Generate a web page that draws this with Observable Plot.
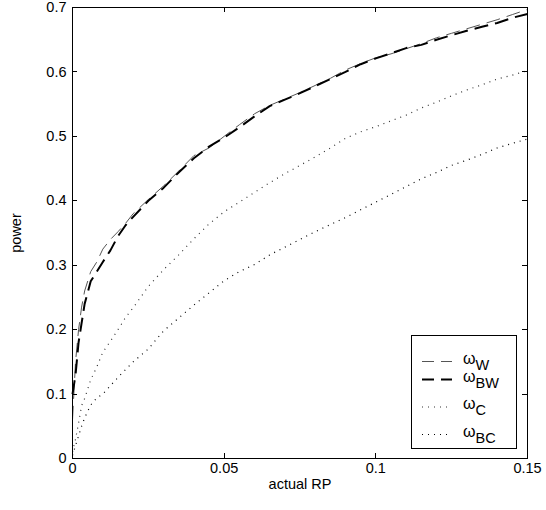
<!DOCTYPE html>
<html><head><meta charset="utf-8">
<script src="https://cdn.jsdelivr.net/npm/d3@7"></script>
<script src="https://cdn.jsdelivr.net/npm/@observablehq/plot@0.6"></script>
<style>
body{margin:0;background:#fff}
#chart svg{font-family:"Liberation Sans",Arial,Helvetica,sans-serif}
</style>
</head><body><div id="chart"></div>
<script>
// actual RP (x values)
const rp = [0, 0.001, 0.002, 0.003, 0.004, 0.006, 0.008, 0.01, 0.0125, 0.015, 0.0175, 0.02, 0.025, 0.03, 0.035, 0.04, 0.045, 0.05, 0.055, 0.06, 0.065, 0.07, 0.075, 0.08, 0.085, 0.09, 0.095, 0.1, 0.105, 0.11, 0.115, 0.12, 0.125, 0.13, 0.135, 0.14, 0.145, 0.15];
// power series
const powerW  = [0.06, 0.15, 0.20, 0.235, 0.26, 0.29, 0.305, 0.325, 0.34, 0.352, 0.365, 0.38, 0.402, 0.423, 0.446, 0.47, 0.482, 0.50, 0.518, 0.535, 0.548, 0.558, 0.568, 0.579, 0.590, 0.603, 0.613, 0.622, 0.628, 0.636, 0.644, 0.653, 0.660, 0.667, 0.674, 0.681, 0.689, 0.697];
const powerBW = [0.10, 0.13, 0.18, 0.21, 0.24, 0.275, 0.29, 0.305, 0.323, 0.345, 0.362, 0.375, 0.40, 0.42, 0.444, 0.466, 0.484, 0.498, 0.514, 0.531, 0.547, 0.557, 0.567, 0.578, 0.589, 0.600, 0.612, 0.621, 0.629, 0.637, 0.642, 0.650, 0.657, 0.664, 0.670, 0.676, 0.684, 0.690];
const powerC  = [0.01, 0.03, 0.055, 0.082, 0.093, 0.122, 0.142, 0.165, 0.182, 0.20, 0.219, 0.234, 0.267, 0.293, 0.316, 0.341, 0.364, 0.383, 0.398, 0.413, 0.428, 0.442, 0.455, 0.468, 0.482, 0.497, 0.507, 0.515, 0.524, 0.533, 0.544, 0.553, 0.563, 0.572, 0.580, 0.589, 0.595, 0.602];
const powerBC = [0.005, 0.02, 0.035, 0.05, 0.063, 0.083, 0.094, 0.10, 0.113, 0.126, 0.138, 0.150, 0.170, 0.198, 0.218, 0.238, 0.257, 0.276, 0.29, 0.301, 0.316, 0.328, 0.340, 0.352, 0.363, 0.374, 0.386, 0.398, 0.410, 0.422, 0.434, 0.444, 0.455, 0.463, 0.472, 0.482, 0.489, 0.496];
const seriesSubs = ["W", "BW", "C", "BC"];
const xTicks = [0, 0.05, 0.1, 0.15];
const yTicks = [0, 0.1, 0.2, 0.3, 0.4, 0.5, 0.6, 0.7];

const seriesValues = [powerW, powerBW, powerC, powerBC];
const lineStyles = [
  {stroke: "#555", strokeWidth: 1, strokeDasharray: "14,7"},
  {stroke: "#000", strokeWidth: 2, strokeDasharray: "14,7"},
  {stroke: "#333", strokeWidth: 1.2, strokeDasharray: "1,5"},
  {stroke: "#000", strokeWidth: 1.2, strokeDasharray: "1,5"}
];
const rows = seriesValues.map(vals => rp.map((x, i) => ({x, y: vals[i]})));

const chart = Plot.plot({
  width: 546, height: 510,
  marginLeft: 72, marginRight: 19, marginTop: 7, marginBottom: 52,
  style: {background: "white", color: "black", fontSize: "14px", fontFamily: "'Liberation Sans', Arial, sans-serif"},
  x: {domain: [0, 0.15]},
  y: {domain: [0, 0.7]},
  marks: [
    ...rows.map((r, k) => Plot.line(r, {x: "x", y: "y", ...lineStyles[k], strokeLinecap: "butt"})),
    Plot.frame({stroke: "black", strokeWidth: 1}),
    Plot.axisX({ticks: xTicks, tickFormat: d => String(d), tickSize: 0, tickPadding: 4, fontSize: 14.5, label: "actual RP", labelAnchor: "center", labelArrow: "none", labelOffset: 30}),
    Plot.axisY({ticks: yTicks, tickFormat: d => String(d), tickSize: 0, tickPadding: 6, fontSize: 14.5, label: "power", labelAnchor: "center", labelArrow: "none", labelOffset: 62})
  ]
});
document.getElementById("chart").appendChild(chart);

// inward MATLAB-style ticks on all four sides, through the plot's scales
const svg = d3.select(chart);
const sx = chart.scale("x"), sy = chart.scale("y");
const L = 72, R = 546 - 19, T = 7, B = 510 - 52, tl = 5;
const g = svg.append("g").attr("stroke", "black").attr("stroke-width", 1);
xTicks.forEach(v => {
  const px = Math.round(sx.apply(v)) + 0.5;
  g.append("line").attr("x1", px).attr("x2", px).attr("y1", B).attr("y2", B - tl);
  g.append("line").attr("x1", px).attr("x2", px).attr("y1", T).attr("y2", T + tl);
});
yTicks.forEach(v => {
  const py = Math.round(sy.apply(v)) + 0.5;
  g.append("line").attr("x1", L).attr("x2", L + tl).attr("y1", py).attr("y2", py);
  g.append("line").attr("x1", R).attr("x2", R - tl).attr("y1", py).attr("y2", py);
});

// legend box
const lg = svg.append("g").attr("text-anchor", "start");
lg.append("rect").attr("x", 411.5).attr("y", 335.5).attr("width", 105).attr("height", 113)
  .attr("fill", "white").attr("stroke", "black").attr("stroke-width", 1);
const rowY = [361.5, 379.5, 407, 434.5];
seriesSubs.forEach((s, k) => {
  lg.append("line").attr("x1", 422).attr("x2", 452).attr("y1", rowY[k]).attr("y2", rowY[k])
    .attr("stroke", lineStyles[k].stroke).attr("stroke-width", lineStyles[k].strokeWidth)
    .attr("stroke-dasharray", lineStyles[k].strokeDasharray.replace("14,7", "12,7"));
  const t = lg.append("text").attr("x", 463).attr("y", rowY[k] + 2).attr("font-size", 16)
    .attr("text-anchor", "start").attr("fill", "black");
  t.append("tspan").text("ω");
  t.append("tspan").attr("dy", 6).attr("font-size", 14.5).text(s);
});
</script>
</body></html>
